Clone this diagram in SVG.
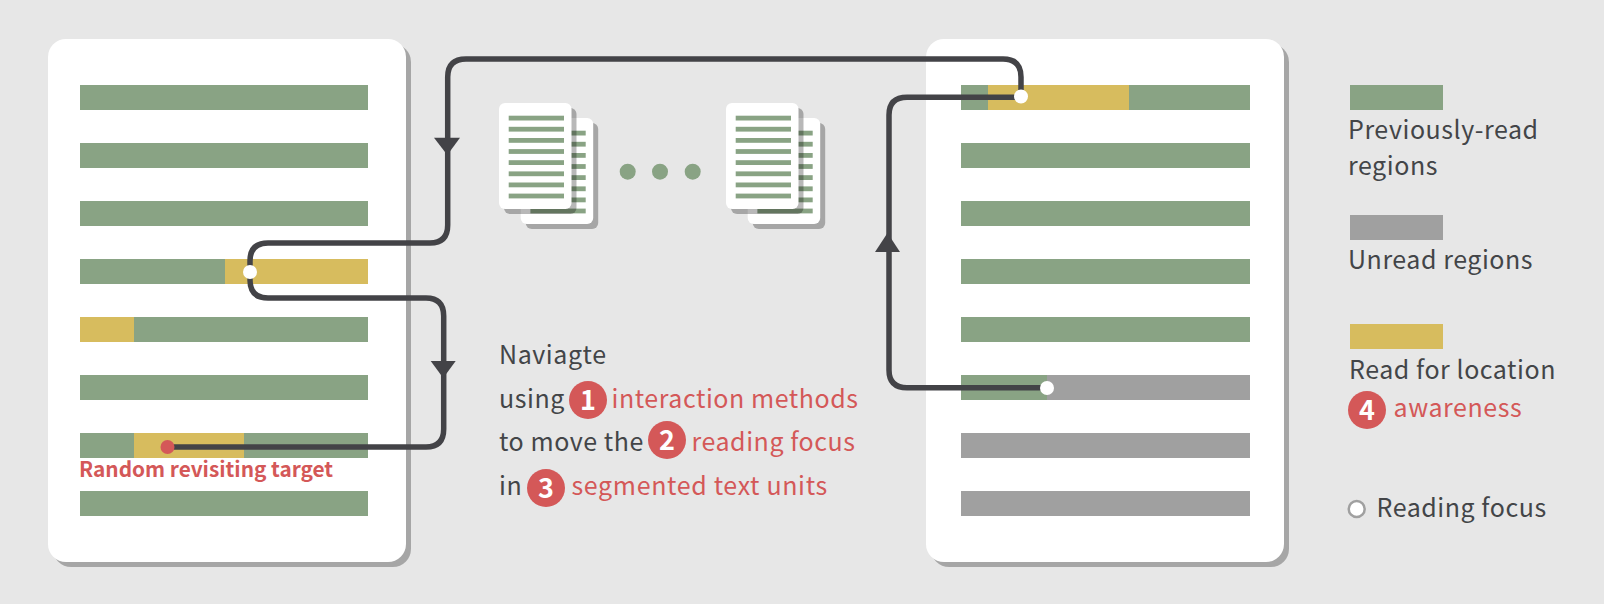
<svg xmlns="http://www.w3.org/2000/svg" xmlns:xlink="http://www.w3.org/1999/xlink" width="1604" height="604" viewBox="0 0 1604 604">
<style>
.g{fill:#89a384}.y{fill:#d7bc5e}.u{fill:#a0a0a0}
.sh{fill:#000;fill-opacity:.28}
.card{fill:#fff}
.t{font-family:"Noto Sans CJK SC","Noto Sans",sans-serif;font-size:25px;fill:#434548;letter-spacing:.55px}
.r{fill:#d45858}
.n{font-family:"Noto Sans CJK SC","Noto Sans",sans-serif;font-size:27px;font-weight:700;fill:#fff;text-anchor:middle}
.b{font-family:"Noto Sans CJK SC","Noto Sans",sans-serif;font-size:20.800px;font-weight:700;fill:#d45858}
.c{fill:none;stroke:#434347;stroke-width:5.500}
.a{fill:#434347}
.f{fill:#fff}
</style>
<defs>
<g id="doc">
<rect x="26.700" y="20" width="72.500" height="106" rx="6" class="sh"/>
<rect x="21.700" y="15" width="72.500" height="106" rx="6" class="card"/>
<g class="g">
<rect x="31.400" y="27.700" width="55.300" height="4.800"/><rect x="31.400" y="38.800" width="55.300" height="4.800"/><rect x="31.400" y="50" width="55.300" height="4.800"/><rect x="31.400" y="61.100" width="55.300" height="4.800"/><rect x="31.400" y="72.200" width="55.300" height="4.800"/><rect x="31.400" y="83.400" width="55.300" height="4.800"/><rect x="31.400" y="94.500" width="55.300" height="4.800"/><rect x="31.400" y="105.600" width="55.300" height="4.800"/>
</g>
<rect x="5" y="5" width="72.500" height="106" rx="6" class="sh"/>
<rect x="0" y="0" width="72.500" height="106" rx="6" class="card"/>
<g class="g">
<rect x="9.700" y="12.700" width="55.300" height="4.800"/><rect x="9.700" y="23.800" width="55.300" height="4.800"/><rect x="9.700" y="35" width="55.300" height="4.800"/><rect x="9.700" y="46.100" width="55.300" height="4.800"/><rect x="9.700" y="57.200" width="55.300" height="4.800"/><rect x="9.700" y="68.400" width="55.300" height="4.800"/><rect x="9.700" y="79.500" width="55.300" height="4.800"/><rect x="9.700" y="90.600" width="55.300" height="4.800"/>
</g>
</g>
</defs>
<rect width="1604" height="604" fill="#e7e7e7"/>
<g id="left-page">
<rect x="53" y="44" width="358" height="523" rx="18" class="sh"/>
<rect x="48" y="39" width="358" height="523" rx="18" class="card"/>
<rect x="80" y="85" width="288" height="25" class="g"/>
<rect x="80" y="143" width="288" height="25" class="g"/>
<rect x="80" y="201" width="288" height="25" class="g"/>
<rect x="80" y="259" width="145" height="25" class="g"/><rect x="225" y="259" width="143" height="25" class="y"/>
<rect x="80" y="317" width="54" height="25" class="y"/><rect x="134" y="317" width="234" height="25" class="g"/>
<rect x="80" y="375" width="288" height="25" class="g"/>
<rect x="80" y="433" width="54" height="25" class="g"/><rect x="134" y="433" width="110" height="25" class="y"/><rect x="244" y="433" width="124" height="25" class="g"/>
<rect x="80" y="491" width="288" height="25" class="g"/>
<text x="79" y="477" class="b">Random revisiting target</text>
</g>
<g id="right-page">
<rect x="931" y="44" width="358" height="523" rx="18" class="sh"/>
<rect x="926" y="39" width="358" height="523" rx="18" class="card"/>
<rect x="961" y="85" width="27" height="25" class="g"/><rect x="988" y="85" width="141" height="25" class="y"/><rect x="1129" y="85" width="121" height="25" class="g"/>
<rect x="961" y="143" width="289" height="25" class="g"/>
<rect x="961" y="201" width="289" height="25" class="g"/>
<rect x="961" y="259" width="289" height="25" class="g"/>
<rect x="961" y="317" width="289" height="25" class="g"/>
<rect x="961" y="375" width="86" height="25" class="g"/><rect x="1047" y="375" width="203" height="25" class="u"/>
<rect x="961" y="433" width="289" height="25" class="u"/>
<rect x="961" y="491" width="289" height="25" class="u"/>
</g>
<g id="documents-a"><use xlink:href="#doc" href="#doc" x="499" y="103"/></g>
<g id="documents-b"><use xlink:href="#doc" href="#doc" x="726" y="103"/></g>
<g id="ellipsis" class="g"><circle cx="627.700" cy="171.700" r="8"/><circle cx="660" cy="171.700" r="8"/><circle cx="692.700" cy="171.700" r="8"/></g>
<g id="connectors">
<path class="c" d="M167 447H426Q443.700 447 443.700 429V316Q443.700 298 426 298H268Q250 298 250 280V261Q250 243 268 243H430Q447.700 243 447.700 225V77Q447.700 59 466 59H1003Q1021 59 1021 77V97"/>
<path class="c" d="M1021 97.300H907Q889 97.300 889 115V370Q889 387.700 907 387.700H1047"/>
<path class="a" d="M434 137.700H460L447.300 155Z"/>
<path class="a" d="M430.700 361H455.700L443.200 378Z"/>
<path class="a" d="M875 252H900L887.500 233Z"/>
</g>
<g id="focus-points">
<circle cx="250" cy="272" r="7" class="f"/>
<circle cx="1021" cy="96.500" r="7" class="f"/>
<circle cx="1047" cy="388" r="7" class="f"/>
<circle cx="167.500" cy="447" r="7" class="r"/>
</g>
<g id="caption">
<text x="499" y="364" class="t">Naviagte</text>
<text x="499" y="408" class="t">using</text>
<circle cx="588" cy="400" r="19" class="r"/><text x="588" y="410" class="n">1</text>
<text x="611.500" y="408" class="t r">interaction methods</text>
<text x="499" y="451" class="t">to move the</text>
<circle cx="667" cy="440" r="19" class="r"/><text x="667" y="450" class="n">2</text>
<text x="691.500" y="451" class="t r">reading focus</text>
<text x="499" y="494.500" class="t">in</text>
<circle cx="546" cy="488" r="19" class="r"/><text x="546" y="498" class="n">3</text>
<text x="571.500" y="494.500" class="t r" style="letter-spacing:.65px">segmented text units</text>
</g>
<g id="legend">
<rect x="1350" y="85" width="93" height="25" class="g"/>
<text x="1348" y="138.500" class="t">Previously-read</text>
<text x="1348" y="175" class="t">regions</text>
<rect x="1350" y="215" width="93" height="25" class="u"/>
<text x="1348" y="269" class="t">Unread regions</text>
<rect x="1350" y="324" width="93" height="25" class="y"/>
<text x="1349" y="379" class="t">Read for location</text>
<circle cx="1367" cy="410" r="19" class="r"/><text x="1367" y="420" class="n">4</text>
<text x="1393.500" y="417" class="t r">awareness</text>
<circle cx="1356.700" cy="509" r="8" fill="#fff" stroke="#a0a0a0" stroke-width="2.500"/>
<text x="1376.500" y="517" class="t">Reading focus</text>
</g>
</svg>
